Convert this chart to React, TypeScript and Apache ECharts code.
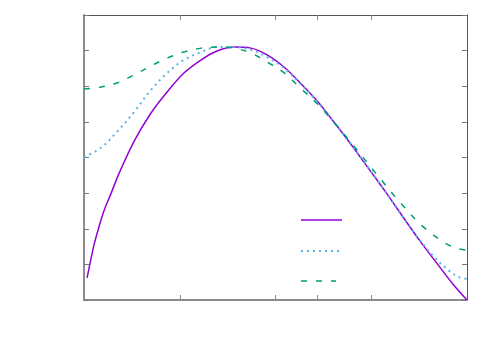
import React, { useEffect, useRef } from "react";
import * as echarts from "echarts";

const solidX = [0.008, 0.016, 0.026, 0.039, 0.052, 0.071, 0.091, 0.131, 0.175, 0.217, 0.261, 0.306, 0.347, 0.392, 0.436, 0.478, 0.522, 0.564, 0.608, 0.650, 0.695, 0.739, 0.791, 0.833, 0.877, 0.922, 0.963, 1.0];
const solidY = [0.62, 1.04, 1.54, 2.05, 2.50, 3.00, 3.54, 4.46, 5.25, 5.84, 6.37, 6.74, 6.99, 7.10, 7.07, 6.88, 6.54, 6.10, 5.60, 5.03, 4.40, 3.75, 2.98, 2.33, 1.66, 1.02, 0.45, 0.0];

const dottedX = [0, 0.044, 0.086, 0.131, 0.175, 0.217, 0.261, 0.306, 0.347, 0.392, 0.436, 0.478, 0.522, 0.564, 0.608, 0.650, 0.695, 0.739, 0.781, 0.820, 0.864, 0.909, 0.950, 0.977, 1.0];
const dottedY = [4.01, 4.27, 4.72, 5.28, 5.90, 6.37, 6.74, 6.96, 7.10, 7.10, 7.02, 6.82, 6.51, 6.08, 5.58, 5.02, 4.40, 3.76, 3.13, 2.52, 1.86, 1.27, 0.85, 0.65, 0.59];

const dashedX = [0, 0.044, 0.086, 0.131, 0.175, 0.217, 0.261, 0.306, 0.347, 0.392, 0.436, 0.478, 0.522, 0.564, 0.608, 0.650, 0.695, 0.757, 0.786, 0.830, 0.883, 0.937, 0.971, 1.0];
const dashedY = [5.92, 5.98, 6.09, 6.32, 6.57, 6.79, 6.96, 7.07, 7.10, 7.07, 6.93, 6.68, 6.38, 5.96, 5.52, 5.02, 4.45, 3.62, 3.24, 2.68, 2.08, 1.64, 1.46, 1.40];

const xTicks = [0.25, 0.5, 0.608, 0.75];
const yMin = 0;
const yMax = 8;
const yStep = 1;

const zip = (xs: number[], ys: number[]) => xs.map((x, i) => [x, ys[i]]);

const PURPLE = "#9400d3";
const BLUE = "#56b4e9";
const GREEN = "#009e73";

export default function App() {
  const ref = useRef<HTMLDivElement>(null);
  useEffect(() => {
    if (!ref.current) return;
    const chart = echarts.init(ref.current, null, { renderer: "svg" });
    const xCommon = (pos: "bottom" | "top", color: string, width: number) => ({
      type: "value" as const,
      min: 0,
      max: 1,
      position: pos,
      axisLine: { show: true, onZero: false, lineStyle: { color, width } },
      axisTick: { show: true, inside: true, length: 5, customValues: xTicks, lineStyle: { color: "#888" } },
      axisLabel: { show: false },
      splitLine: { show: false },
    });
    const yCommon = (pos: "left" | "right", color: string, width: number) => ({
      type: "value" as const,
      min: yMin,
      max: yMax,
      interval: yStep,
      position: pos,
      axisLine: { show: true, onZero: false, lineStyle: { color, width } },
      axisTick: { show: true, inside: true, length: 5, lineStyle: { color: "#777" } },
      axisLabel: { show: false },
      splitLine: { show: false },
    });
    const lineSeries = (name: string, xs: number[], ys: number[], lineStyle: any) => ({
      type: "line" as const,
      name,
      data: zip(xs, ys),
      smooth: 0.35,
      showSymbol: false,
      lineStyle,
    });
    chart.setOption({
      animation: false,
      backgroundColor: "#ffffff",
      grid: { left: 84, top: 15, width: 383, height: 285, show: false },
      xAxis: [xCommon("bottom", "#8c8c8c", 2), xCommon("top", "#555", 1)],
      yAxis: [yCommon("left", "#8c8c8c", 2), yCommon("right", "#555", 1)],
      series: [
        lineSeries("a", solidX, solidY, { color: PURPLE, width: 1.5 }),
        lineSeries("b", dottedX, dottedY, { color: BLUE, width: 2, type: [2, 4] }),
        lineSeries("c", dashedX, dashedY, { color: GREEN, width: 1.5, type: [6, 9] }),
      ],
      graphic: [
        { type: "line", shape: { x1: 301, y1: 220, x2: 342, y2: 220 }, style: { stroke: PURPLE, lineWidth: 1.5 } },
        { type: "line", shape: { x1: 301, y1: 251, x2: 340, y2: 251 }, style: { stroke: BLUE, lineWidth: 2, lineDash: [2, 4] } },
        { type: "line", shape: { x1: 301, y1: 281, x2: 336, y2: 281 }, style: { stroke: GREEN, lineWidth: 1.5, lineDash: [6, 9] } },
      ],
    });
    return () => chart.dispose();
  }, []);
  return (
    <div
      ref={ref}
      style={{ position: "fixed", left: 0, top: 0, width: 500, height: 350, background: "#fff" }}
    />
  );
}
